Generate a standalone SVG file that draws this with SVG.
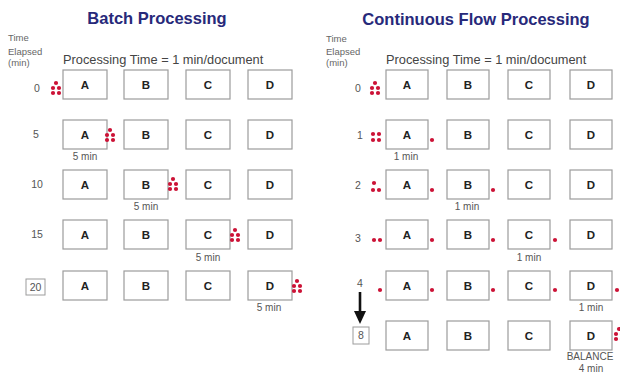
<svg xmlns="http://www.w3.org/2000/svg" xmlns:xlink="http://www.w3.org/1999/xlink" width="620" height="378" viewBox="0 0 620 378">
<style>
.title{font-family:"Liberation Sans",Arial,sans-serif;font-weight:bold;font-size:16.5px;fill:#27297a}
.sub{font-family:"Liberation Sans",Arial,sans-serif;font-size:12.8px;fill:#444}
.hdr{font-family:"Liberation Sans",Arial,sans-serif;font-size:9.5px;fill:#666}
.rl{font-family:"Liberation Sans",Arial,sans-serif;font-size:10.5px;fill:#555;text-anchor:middle}
.box rect{fill:#fff;stroke:#9c9c9c;stroke-width:1.2}
.box text{font-family:"Liberation Sans",Arial,sans-serif;font-weight:bold;font-size:11.5px;fill:#222;text-anchor:middle}
.lab{font-family:"Liberation Sans",Arial,sans-serif;font-size:10px;fill:#555;text-anchor:middle}
.dot{fill:#cc1236}
.tbox{fill:#fff;stroke:#9c9c9c;stroke-width:1}
</style>
<defs>
<g id="pile5">
<circle class="dot" cx="0" cy="-5" r="2.1"/>
<circle class="dot" cx="-3" cy="0" r="2.1"/>
<circle class="dot" cx="3" cy="0" r="2.1"/>
<circle class="dot" cx="-3" cy="5" r="2.1"/>
<circle class="dot" cx="3" cy="5" r="2.1"/>
</g>
<circle id="d1" class="dot" cx="0" cy="0" r="2.1"/>
</defs>
<rect width="620" height="378" fill="#fff"/>

<!-- Titles and headers -->
<text class="title" x="157" y="24" text-anchor="middle">Batch Processing</text>
<text class="title" x="476" y="25" text-anchor="middle">Continuous Flow Processing</text>
<text class="sub" x="63" y="64">Processing Time = 1 min/document</text>
<text class="sub" x="386" y="64">Processing Time = 1 min/document</text>
<text class="hdr" x="8" y="41">Time</text>
<text class="hdr" x="8" y="55">Elapsed</text>
<text class="hdr" x="8" y="66">(min)</text>
<text class="hdr" x="326" y="42">Time</text>
<text class="hdr" x="326" y="55">Elapsed</text>
<text class="hdr" x="326" y="66">(min)</text>

<!-- Batch row labels -->
<text class="rl" x="37" y="92">0</text>
<text class="rl" x="36" y="138">5</text>
<text class="rl" x="37" y="188">10</text>
<text class="rl" x="37" y="238">15</text>
<rect class="tbox" x="26" y="279" width="19" height="16"/>
<text class="rl" x="35.5" y="291">20</text>

<!-- Flow row labels -->
<text class="rl" x="358" y="92">0</text>
<text class="rl" x="360" y="139">1</text>
<text class="rl" x="358" y="189">2</text>
<text class="rl" x="358" y="242">3</text>
<text class="rl" x="360" y="287">4</text>
<rect class="tbox" x="353" y="327" width="16" height="17"/>
<text class="rl" x="361" y="339">8</text>

<!-- Batch boxes -->
<g id="batch-t0-A" class="box"><rect x="63" y="70" width="44" height="29"/><text x="85" y="89">A</text></g>
<g id="batch-t0-B" class="box"><rect x="124" y="70" width="44" height="29"/><text x="146" y="89">B</text></g>
<g id="batch-t0-C" class="box"><rect x="186" y="70" width="44" height="29"/><text x="208" y="89">C</text></g>
<g id="batch-t0-D" class="box"><rect x="248" y="70" width="44" height="29"/><text x="270" y="89">D</text></g>

<g id="batch-t5-A" class="box"><rect x="63" y="120" width="44" height="29"/><text x="85" y="139">A</text></g>
<g id="batch-t5-B" class="box"><rect x="124" y="120" width="44" height="29"/><text x="146" y="139">B</text></g>
<g id="batch-t5-C" class="box"><rect x="186" y="120" width="44" height="29"/><text x="208" y="139">C</text></g>
<g id="batch-t5-D" class="box"><rect x="248" y="120" width="44" height="29"/><text x="270" y="139">D</text></g>

<g id="batch-t10-A" class="box"><rect x="63" y="170" width="44" height="29"/><text x="85" y="189">A</text></g>
<g id="batch-t10-B" class="box"><rect x="124" y="170" width="44" height="29"/><text x="146" y="189">B</text></g>
<g id="batch-t10-C" class="box"><rect x="186" y="170" width="44" height="29"/><text x="208" y="189">C</text></g>
<g id="batch-t10-D" class="box"><rect x="248" y="170" width="44" height="29"/><text x="270" y="189">D</text></g>

<g id="batch-t15-A" class="box"><rect x="63" y="220" width="44" height="29"/><text x="85" y="239">A</text></g>
<g id="batch-t15-B" class="box"><rect x="124" y="220" width="44" height="29"/><text x="146" y="239">B</text></g>
<g id="batch-t15-C" class="box"><rect x="186" y="220" width="44" height="29"/><text x="208" y="239">C</text></g>
<g id="batch-t15-D" class="box"><rect x="248" y="220" width="44" height="29"/><text x="270" y="239">D</text></g>

<g id="batch-t20-A" class="box"><rect x="63" y="271" width="44" height="29"/><text x="85" y="290">A</text></g>
<g id="batch-t20-B" class="box"><rect x="124" y="271" width="44" height="29"/><text x="146" y="290">B</text></g>
<g id="batch-t20-C" class="box"><rect x="186" y="271" width="44" height="29"/><text x="208" y="290">C</text></g>
<g id="batch-t20-D" class="box"><rect x="248" y="271" width="44" height="29"/><text x="270" y="290">D</text></g>

<!-- Batch time labels -->
<text class="lab" x="85" y="160">5 min</text>
<text class="lab" x="146" y="210">5 min</text>
<text class="lab" x="208" y="261">5 min</text>
<text class="lab" x="269" y="311">5 min</text>

<!-- Flow boxes -->
<g id="flow-t0-A" class="box"><rect x="386" y="70" width="42" height="29"/><text x="407" y="89">A</text></g>
<g id="flow-t0-B" class="box"><rect x="447" y="70" width="42" height="29"/><text x="468" y="89">B</text></g>
<g id="flow-t0-C" class="box"><rect x="508" y="70" width="42" height="29"/><text x="529" y="89">C</text></g>
<g id="flow-t0-D" class="box"><rect x="570" y="70" width="42" height="29"/><text x="591" y="89">D</text></g>

<g id="flow-t1-A" class="box"><rect x="386" y="120" width="42" height="29"/><text x="407" y="139">A</text></g>
<g id="flow-t1-B" class="box"><rect x="447" y="120" width="42" height="29"/><text x="468" y="139">B</text></g>
<g id="flow-t1-C" class="box"><rect x="508" y="120" width="42" height="29"/><text x="529" y="139">C</text></g>
<g id="flow-t1-D" class="box"><rect x="570" y="120" width="42" height="29"/><text x="591" y="139">D</text></g>

<g id="flow-t2-A" class="box"><rect x="386" y="170" width="42" height="29"/><text x="407" y="189">A</text></g>
<g id="flow-t2-B" class="box"><rect x="447" y="170" width="42" height="29"/><text x="468" y="189">B</text></g>
<g id="flow-t2-C" class="box"><rect x="508" y="170" width="42" height="29"/><text x="529" y="189">C</text></g>
<g id="flow-t2-D" class="box"><rect x="570" y="170" width="42" height="29"/><text x="591" y="189">D</text></g>

<g id="flow-t3-A" class="box"><rect x="386" y="220" width="42" height="29"/><text x="407" y="239">A</text></g>
<g id="flow-t3-B" class="box"><rect x="447" y="220" width="42" height="29"/><text x="468" y="239">B</text></g>
<g id="flow-t3-C" class="box"><rect x="508" y="220" width="42" height="29"/><text x="529" y="239">C</text></g>
<g id="flow-t3-D" class="box"><rect x="570" y="220" width="42" height="29"/><text x="591" y="239">D</text></g>

<g id="flow-t4-A" class="box"><rect x="386" y="271" width="42" height="29"/><text x="407" y="290">A</text></g>
<g id="flow-t4-B" class="box"><rect x="447" y="271" width="42" height="29"/><text x="468" y="290">B</text></g>
<g id="flow-t4-C" class="box"><rect x="508" y="271" width="42" height="29"/><text x="529" y="290">C</text></g>
<g id="flow-t4-D" class="box"><rect x="570" y="271" width="42" height="29"/><text x="591" y="290">D</text></g>

<g id="flow-t8-A" class="box"><rect x="386" y="321" width="42" height="29"/><text x="407" y="340">A</text></g>
<g id="flow-t8-B" class="box"><rect x="447" y="321" width="42" height="29"/><text x="468" y="340">B</text></g>
<g id="flow-t8-C" class="box"><rect x="508" y="321" width="42" height="29"/><text x="529" y="340">C</text></g>
<g id="flow-t8-D" class="box"><rect x="570" y="321" width="42" height="29"/><text x="591" y="340">D</text></g>

<!-- Flow time labels -->
<text class="lab" x="406" y="160">1 min</text>
<text class="lab" x="467" y="210">1 min</text>
<text class="lab" x="529" y="261">1 min</text>
<text class="lab" x="591" y="311">1 min</text>
<text class="lab" x="590" y="360">BALANCE</text>
<text class="lab" x="591" y="372">4 min</text>

<!-- Documents: batch -->
<g id="batch-docs">
<use xlink:href="#pile5" x="56" y="88"/>
<use xlink:href="#pile5" x="110" y="135"/>
<use xlink:href="#pile5" x="173" y="184"/>
<use xlink:href="#pile5" x="235" y="235"/>
<use xlink:href="#pile5" x="297" y="286"/>
</g>

<!-- Documents: flow -->
<g id="flow-docs">
<use xlink:href="#pile5" x="375" y="88"/>
<use xlink:href="#d1" x="373" y="134"/><use xlink:href="#d1" x="379" y="134"/>
<use xlink:href="#d1" x="373" y="140"/><use xlink:href="#d1" x="379" y="140"/>
<use xlink:href="#d1" x="432" y="140"/>
<use xlink:href="#d1" x="374" y="183"/><use xlink:href="#d1" x="373" y="190"/><use xlink:href="#d1" x="379" y="190"/>
<use xlink:href="#d1" x="432" y="190"/><use xlink:href="#d1" x="493" y="190"/>
<use xlink:href="#d1" x="374" y="240"/><use xlink:href="#d1" x="380" y="240"/>
<use xlink:href="#d1" x="432" y="240"/><use xlink:href="#d1" x="493" y="240"/><use xlink:href="#d1" x="555" y="240"/>
<use xlink:href="#d1" x="380" y="290"/>
<use xlink:href="#d1" x="432" y="290"/><use xlink:href="#d1" x="493" y="290"/><use xlink:href="#d1" x="555" y="290"/><use xlink:href="#d1" x="617" y="290"/>
<use xlink:href="#pile5" x="619" y="334"/>
</g>

<!-- Connectors -->
<g id="connectors">
<line x1="360" y1="292" x2="360" y2="313" stroke="#111" stroke-width="2.6"/>
<polygon points="354,311 366,311 360,324" fill="#111"/>
</g>
</svg>
